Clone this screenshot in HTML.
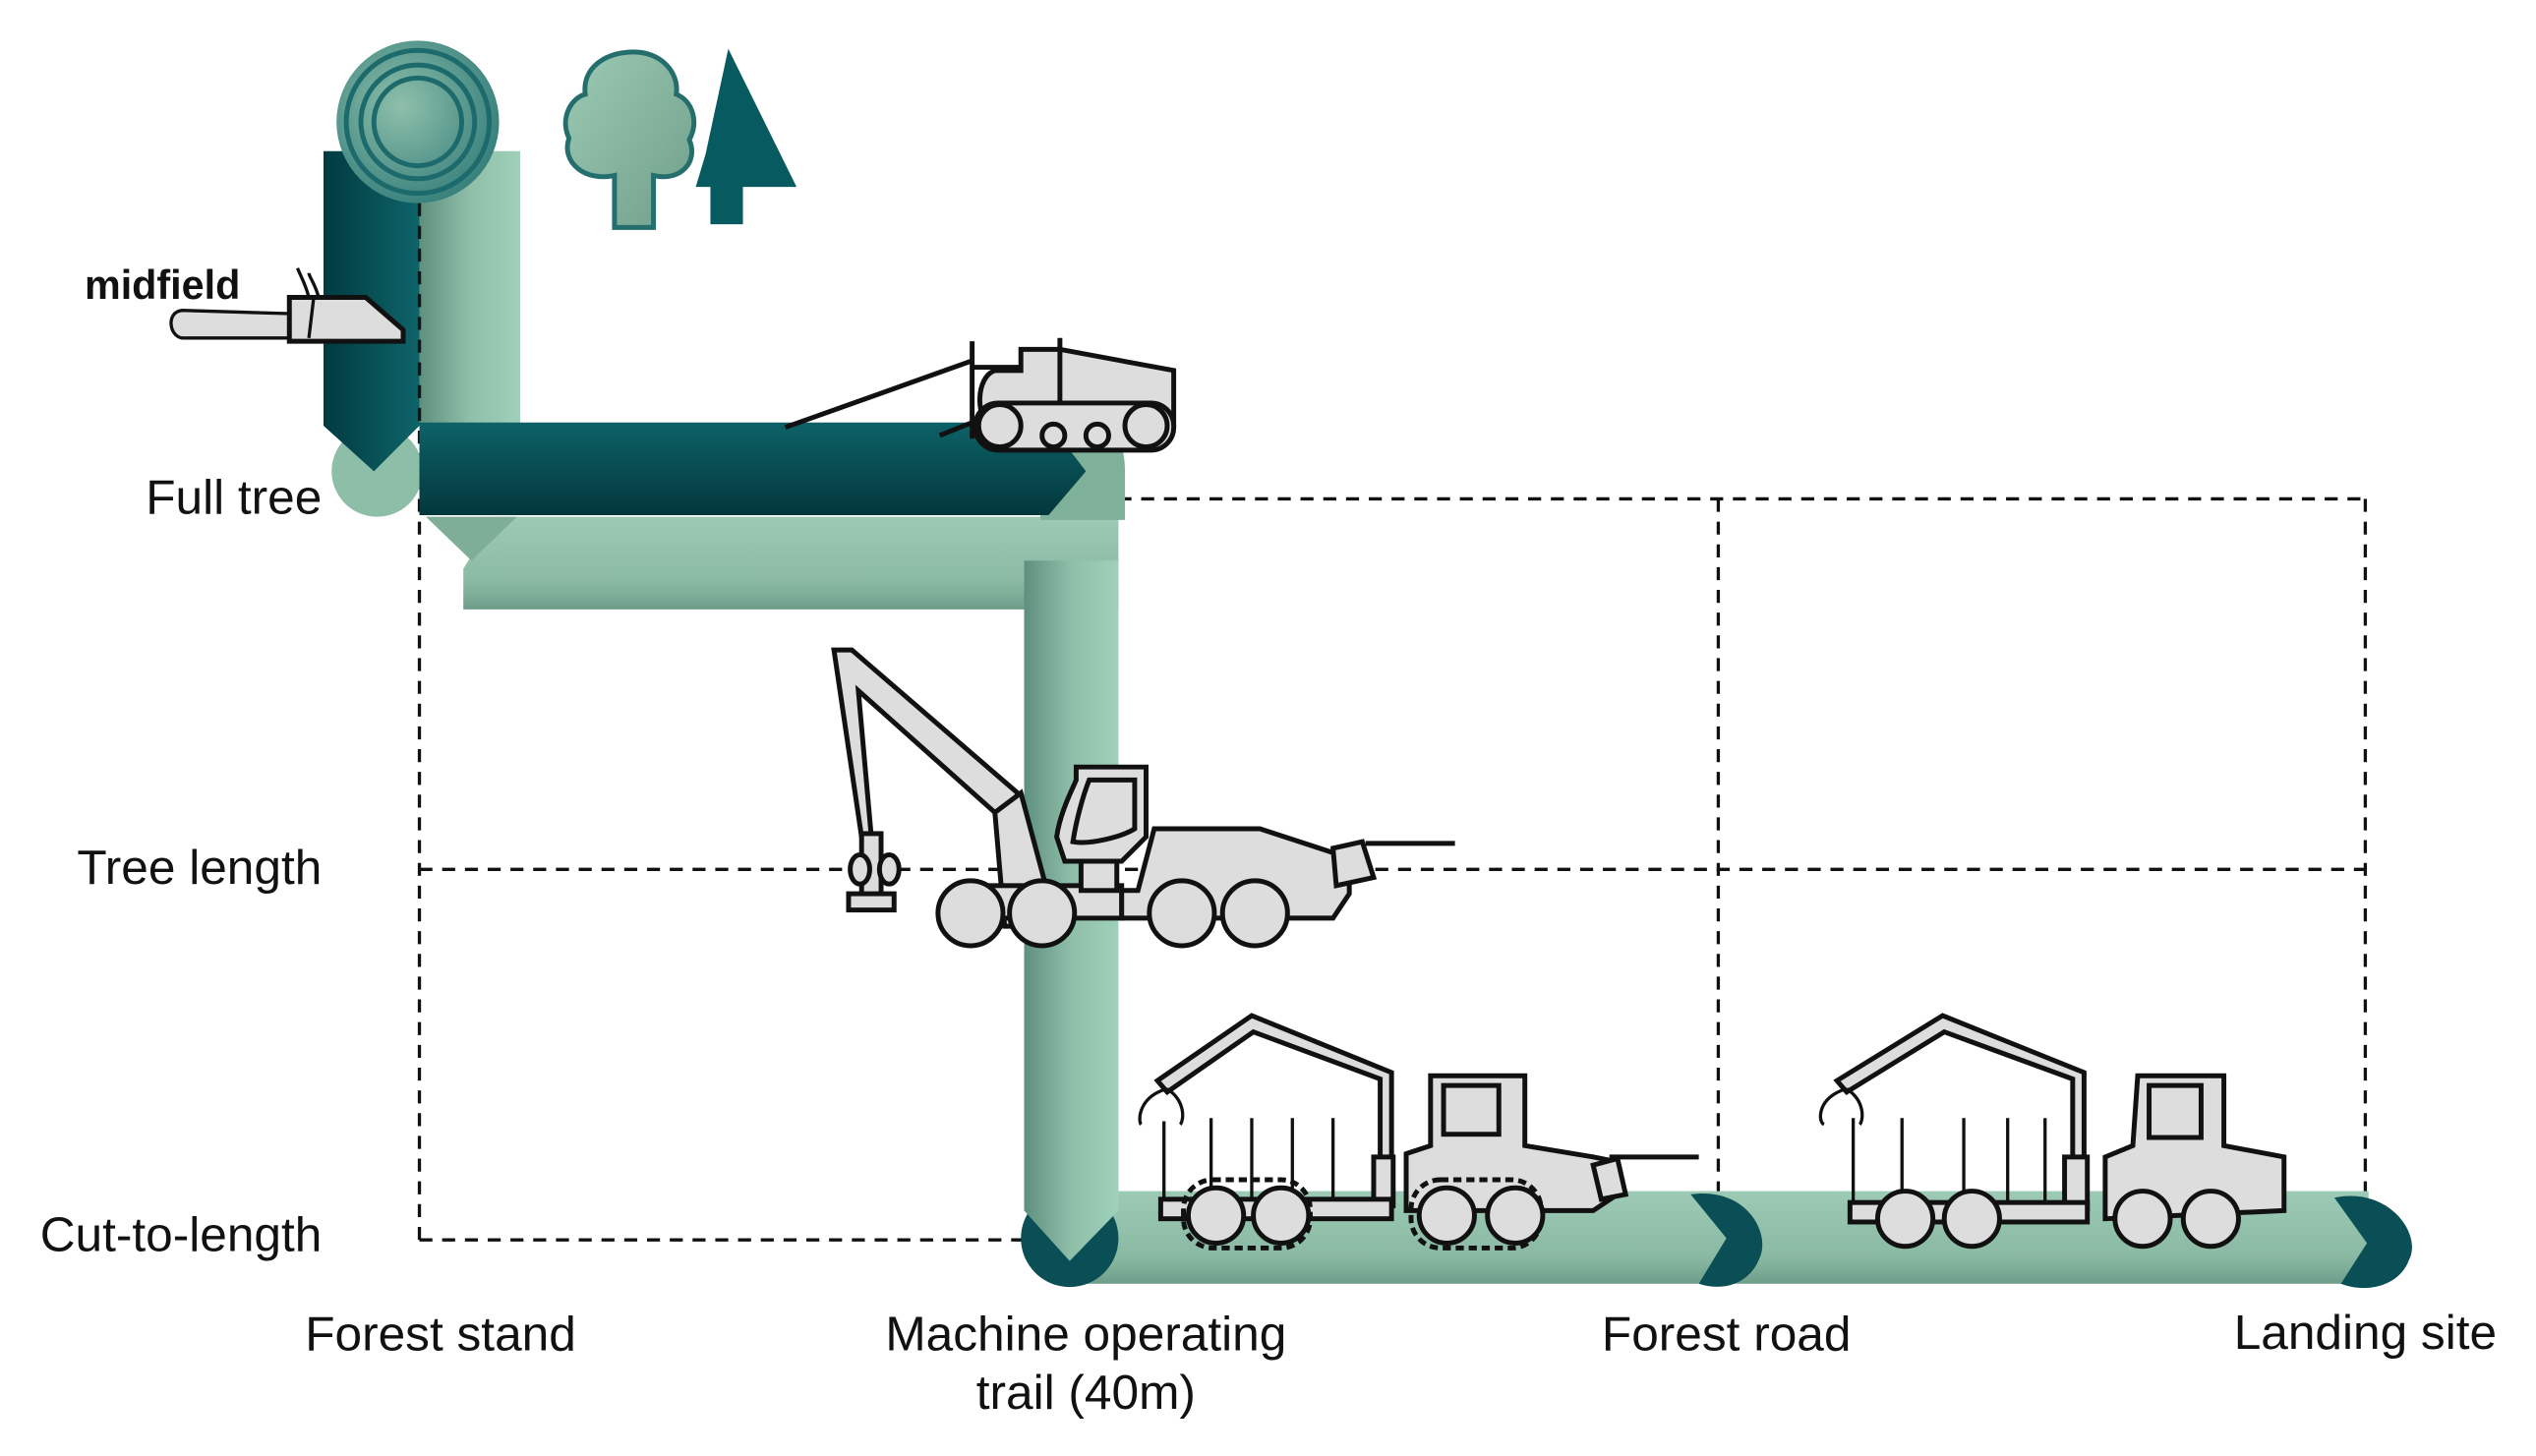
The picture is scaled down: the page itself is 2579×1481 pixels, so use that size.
<!DOCTYPE html>
<html><head><meta charset="utf-8"><style>
html,body{margin:0;padding:0;background:#fff;}
svg{display:block;}
text{font-family:"Liberation Sans",Arial,sans-serif;fill:#111;}
</style></head><body>
<svg width="2579" height="1481" viewBox="0 0 1560 896" preserveAspectRatio="none" xmlns="http://www.w3.org/2000/svg">
<defs>
<linearGradient id="darkV" x1="0" y1="0" x2="1" y2="0"><stop offset="0" stop-color="#003b40"/><stop offset="1" stop-color="#0e6469"/></linearGradient>
<linearGradient id="darkH" x1="0" y1="0" x2="0" y2="1"><stop offset="0" stop-color="#0d6267"/><stop offset="1" stop-color="#02373c"/></linearGradient>
<linearGradient id="lightV" x1="0" y1="0" x2="1" y2="0"><stop offset="0" stop-color="#5f907f"/><stop offset="0.5" stop-color="#8fbfa9"/><stop offset="1" stop-color="#9fd0b9"/></linearGradient>
<linearGradient id="lightH" x1="0" y1="0" x2="0" y2="1"><stop offset="0" stop-color="#9ccab4"/><stop offset="0.7" stop-color="#8bbaa4"/><stop offset="1" stop-color="#6e9e8a"/></linearGradient>
<radialGradient id="ring" cx="0.4" cy="0.4" r="0.7"><stop offset="0" stop-color="#8fc0aa"/><stop offset="1" stop-color="#2f7a78"/></radialGradient>
<linearGradient id="treeG" x1="0" y1="0" x2="1" y2="1"><stop offset="0" stop-color="#9ccab4"/><stop offset="1" stop-color="#6f9e8a"/></linearGradient>
</defs>

<g stroke="#111" stroke-width="2" stroke-dasharray="8,6" fill="none">
<line x1="258" y1="125" x2="258" y2="763"/>
<line x1="688" y1="307" x2="1455" y2="307"/>
<line x1="258" y1="535" x2="1455" y2="535"/>
<line x1="258" y1="763" x2="632" y2="763"/>
<line x1="1057" y1="307" x2="1057" y2="735"/>
<line x1="1455" y1="307" x2="1455" y2="735"/>
</g>

<rect x="258" y="93" width="62" height="175" fill="url(#lightV)"/>
<circle cx="232" cy="290" r="28" fill="#8dbea7"/>
<polygon points="199,93 258,93 258,262 230,290 199,262" fill="url(#darkV)"/>
<line x1="258" y1="125" x2="258" y2="260" stroke="#111" stroke-width="2" stroke-dasharray="8,6"/>
<circle cx="257" cy="75" r="50" fill="url(#ring)"/>
<circle cx="257" cy="75" r="44" fill="none" stroke="#1d6a6c" stroke-width="3"/>
<circle cx="257" cy="75" r="35" fill="none" stroke="#1d6a6c" stroke-width="3"/>
<circle cx="257" cy="75" r="27" fill="none" stroke="#1d6a6c" stroke-width="3"/>

<path d="M378,140 L378,108 C360,112 345,100 350,85 C344,72 352,60 360,58 C358,42 372,32 390,32 C406,32 418,44 416,58 C426,62 430,75 424,86 C430,100 418,112 402,108 L402,140 Z" fill="url(#treeG)" stroke="#246e6d" stroke-width="3"/>
<polygon points="448,30 490,115 457,115 457,138 437,138 437,115 428,115 434,95" fill="#065a60"/>

<path d="M178,193 L112,191 C102,192 104,207 112,208 L178,208 Z" fill="#ddd" stroke="#111" stroke-width="2"/>
<path d="M178,183 L225,183 L248,203 L248,210 L178,210 Z" fill="#ddd" stroke="#111" stroke-width="3"/>
<path d="M193,183 L190,208 M190,183 C188,175 185,170 183,165 M196,183 C194,175 190,170 190,168" stroke="#111" stroke-width="2" fill="none"/>
<text x="52" y="184" font-size="25" font-weight="bold">midfield</text>

<polygon points="262,318 688,318 688,375 285,375 285,350 305,318" fill="url(#lightH)"/>
<polygon points="262,318 318,318 290,345" fill="#7eae98"/>
<path d="M640,262 L668,262 C688,262 692,275 692,290 L692,320 L640,320 Z" fill="#7fb09a"/>
<polygon points="258,260 645,260 668,290 645,317 258,317" fill="url(#darkH)"/>
<rect x="630" y="345" width="58" height="400" fill="url(#lightV)"/>

<rect x="660" y="733" width="402" height="57" fill="url(#lightH)"/>
<rect x="1062" y="733" width="395" height="57" fill="url(#lightH)"/>
<circle cx="658" cy="762" r="30" fill="#0a4f56"/>
<polygon points="630,700 688,700 688,745 658,776 630,745" fill="url(#lightV)"/>
<path d="M1040,735 C1075,730 1090,760 1082,775 C1076,790 1060,795 1045,790 L1062,762 Z" fill="#0a4f56"/>
<path d="M1436,737 C1470,730 1490,760 1482,775 C1476,792 1455,796 1440,790 L1456,765 Z" fill="#0a4f56"/>

<g stroke="#111" stroke-width="3" fill="#ddd">
<line x1="483" y1="263" x2="598" y2="222" fill="none"/>
<line x1="578" y1="268" x2="598" y2="260" fill="none"/>
<path d="M628,215 L652,215 L722,228 L722,262 L610,262 C600,258 600,232 612,228 L628,228 Z"/>
<line x1="598" y1="210" x2="598" y2="270"/>
<line x1="652" y1="208" x2="652" y2="262"/>
<line x1="598" y1="226" x2="628" y2="226"/>
<rect x="600" y="248" width="122" height="29" rx="14"/>
<circle cx="615" cy="262" r="13"/>
<circle cx="705" cy="262" r="13"/>
<circle cx="648" cy="268" r="7"/>
<circle cx="675" cy="268" r="7"/>
</g>

<g stroke="#111" stroke-width="3" fill="#ddd">
<polygon points="513,400 524,400 626,488 622,503 612,500 528,425 536,515 530,515"/>
<polygon points="612,500 628,488 650,570 618,570"/>
<rect x="530" y="513" width="12" height="40"/>
<ellipse cx="529" cy="535" rx="6" ry="9"/>
<ellipse cx="547" cy="535" rx="6" ry="9"/>
<rect x="522" y="550" width="28" height="10"/>
<rect x="590" y="545" width="100" height="20"/>
<path d="M662,472 L705,472 L705,515 L690,530 L655,530 L650,515 C652,500 660,485 662,480 Z"/>
<path d="M670,480 L698,480 L698,510 C690,515 670,520 660,518 C662,505 666,490 670,480 Z"/>
<rect x="665" y="530" width="22" height="18"/>
<path d="M690,548 L690,565 L820,565 L830,550 L830,528 L775,510 L710,510 L700,548 Z"/>
<path d="M820,522 L838,518 L845,540 L822,545 Z"/>
<line x1="840" y1="519" x2="895" y2="519"/>
<circle cx="597" cy="562" r="20"/>
<circle cx="641" cy="562" r="20"/>
<circle cx="727" cy="562" r="20"/>
<circle cx="772" cy="562" r="20"/>
</g>

<g stroke="#111" stroke-width="3" fill="#ddd">
<polygon points="712,665 770,625 856,660 856,722 849,722 849,664 771,635 718,672"/>
<path d="M718,670 C700,675 700,690 702,692 M718,670 C730,678 728,690 726,692" fill="none" stroke-width="2"/>
<g stroke-width="2"><line x1="716" y1="690" x2="716" y2="740"/><line x1="745" y1="688" x2="745" y2="740"/><line x1="770" y1="688" x2="770" y2="740"/><line x1="795" y1="688" x2="795" y2="740"/><line x1="820" y1="688" x2="820" y2="740"/></g>
<rect x="845" y="712" width="12" height="30"/>
<rect x="714" y="738" width="142" height="12"/>
<path d="M880,662 L938,662 L938,705 L980,712 L995,715 L995,735 L980,745 L865,745 L865,710 L880,705 Z"/>
<rect x="888" y="668" width="34" height="30"/>
<path d="M980,717 L995,713 L1000,735 L985,738 Z"/>
<line x1="990" y1="712" x2="1045" y2="712"/>
<g stroke-dasharray="5,3"><rect x="728" y="726" width="78" height="42" rx="18" fill="none"/><rect x="868" y="726" width="80" height="42" rx="18" fill="none"/></g>
<circle cx="748" cy="748" r="17"/>
<circle cx="788" cy="748" r="17"/>
<circle cx="890" cy="748" r="17"/>
<circle cx="932" cy="748" r="17"/>
</g>

<g stroke="#111" stroke-width="3" fill="#ddd">
<polygon points="1130,665 1195,625 1282,660 1282,722 1275,722 1275,664 1196,635 1136,672"/>
<path d="M1136,670 C1118,675 1118,690 1122,692 M1136,670 C1148,678 1146,690 1144,692" fill="none" stroke-width="2"/>
<g stroke-width="2"><line x1="1140" y1="688" x2="1140" y2="740"/><line x1="1170" y1="688" x2="1170" y2="740"/><line x1="1208" y1="688" x2="1208" y2="740"/><line x1="1235" y1="688" x2="1235" y2="740"/><line x1="1258" y1="688" x2="1258" y2="740"/></g>
<rect x="1270" y="712" width="14" height="32"/>
<rect x="1138" y="740" width="146" height="12"/>
<path d="M1315,662 L1368,662 L1368,705 L1405,712 L1405,745 L1295,750 L1295,712 L1312,705 Z"/>
<rect x="1322" y="668" width="32" height="32"/>
<circle cx="1172" cy="750" r="17"/>
<circle cx="1213" cy="750" r="17"/>
<circle cx="1318" cy="750" r="17"/>
<circle cx="1360" cy="750" r="17"/>
</g>

<g font-size="30">
<text x="198" y="316" text-anchor="end">Full tree</text>
<text x="198" y="544" text-anchor="end">Tree length</text>
<text x="198" y="770" text-anchor="end">Cut-to-length</text>
<text x="271" y="831" text-anchor="middle">Forest stand</text>
<text x="668" y="831" text-anchor="middle">Machine operating</text>
<text x="668" y="867" text-anchor="middle">trail (40m)</text>
<text x="1062" y="831" text-anchor="middle">Forest road</text>
<text x="1455" y="830" text-anchor="middle">Landing site</text>
</g>
</svg>
</body></html>
